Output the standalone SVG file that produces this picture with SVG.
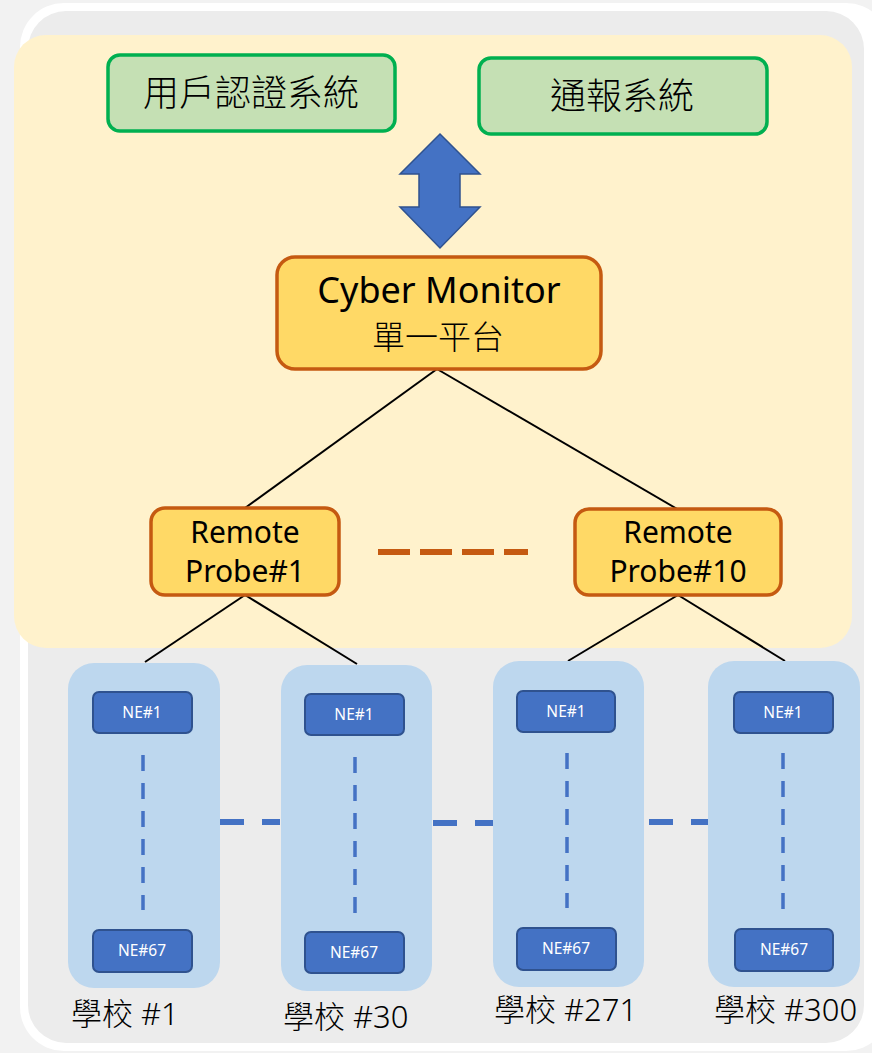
<svg xmlns="http://www.w3.org/2000/svg" width="872" height="1053" viewBox="0 0 872 1053">
<style>
text{font-family:"Noto Sans","Noto Sans CJK TC",sans-serif;fill:#000}
.cjk{font-family:"Noto Sans CJK TC","Noto Sans",sans-serif;font-weight:300}
.sys{fill:#c5e0b4;stroke:#00b050;stroke-width:3.5}
.core{fill:#ffd966;stroke:#c55a11;stroke-width:3.5}
.school{fill:#bdd7ee}
.ne{fill:#4472c4;stroke:#2f528f;stroke-width:2}
.net{fill:#fff;font-size:15.5px;text-anchor:middle}
.link{stroke:#000;stroke-width:2;fill:none}
.vdash{stroke:#4472c4;stroke-width:3.5;stroke-dasharray:16 12;fill:none}
.hdash{stroke:#4472c4;stroke-width:6;stroke-dasharray:24 18;fill:none}
.lbl{font-size:31px;font-weight:300}
.rp{font-size:30px;text-anchor:middle}
</style>
<rect x="0" y="0" width="872" height="1053" fill="#f2f2f2"/>
<rect x="20" y="3" width="870" height="1048" rx="44" fill="#ffffff"/>
<rect x="28" y="11" width="836" height="1032" rx="38" fill="#ececec"/>
<rect x="14" y="35" width="838" height="613" rx="32" fill="#fff2cc"/>

<g id="connectors">
<line class="link" x1="437" y1="369" x2="245" y2="508"/>
<line class="link" x1="437" y1="369" x2="679" y2="510"/>
<line class="link" x1="245" y1="595" x2="145" y2="662"/>
<line class="link" x1="245" y1="595" x2="357" y2="664"/>
<line class="link" x1="678" y1="595" x2="568" y2="661"/>
<line class="link" x1="678" y1="595" x2="785" y2="661"/>
<line x1="378" y1="552" x2="528" y2="552" stroke="#c55a11" stroke-width="6" stroke-dasharray="32 10"/>
<line class="hdash" x1="220" y1="822" x2="280" y2="822"/>
<line class="hdash" x1="433" y1="823" x2="493" y2="823"/>
<line class="hdash" x1="649" y1="822" x2="708" y2="822"/>
<path d="M440 134 L480 174 L460 174 L460 207 L480 207 L440 248 L400 207 L419 207 L419 174 L400 174 Z" fill="#4472c4" stroke="#2f528f" stroke-width="1.5"/>
</g>

<g id="auth">
<rect class="sys" x="108" y="55" width="287" height="76" rx="12"/>
<text class="cjk" x="251" y="106" font-size="36" text-anchor="middle">用戶認證系統</text>
</g>
<g id="notify">
<rect class="sys" x="479" y="58" width="288" height="76" rx="12"/>
<text class="cjk" x="622" y="109" font-size="36" text-anchor="middle">通報系統</text>
</g>
<g id="cyber-monitor">
<rect class="core" x="277" y="257" width="324" height="112" rx="18"/>
<text x="439" y="303" font-size="36" text-anchor="middle">Cyber Monitor</text>
<text class="cjk" x="438" y="349" font-size="33" text-anchor="middle">單一平台</text>
</g>
<g id="probe1">
<rect class="core" x="151" y="508" width="188" height="87" rx="14"/>
<text class="rp" x="245" y="543">Remote</text>
<text class="rp" x="245" y="582">Probe#1</text>
</g>
<g id="probe10">
<rect class="core" x="575" y="509" width="206" height="86" rx="14"/>
<text class="rp" x="678" y="543">Remote</text>
<text class="rp" x="678" y="582">Probe#10</text>
</g>

<g id="school1">
<rect class="school" x="68" y="663" width="152" height="325" rx="26"/>
<line class="vdash" x1="143" y1="755" x2="143" y2="910"/>
<rect class="ne" x="93" y="692" width="99" height="41" rx="6"/>
<text class="net" x="142" y="718">NE#1</text>
<rect class="ne" x="93" y="930" width="99" height="42" rx="6"/>
<text class="net" x="142" y="956">NE#67</text>
<text class="lbl" x="71" y="1025">學校 #1</text>
</g>
<g id="school30">
<rect class="school" x="281" y="665" width="151" height="326" rx="26"/>
<line class="vdash" x1="355" y1="757" x2="355" y2="913"/>
<rect class="ne" x="305" y="694" width="99" height="41" rx="6"/>
<text class="net" x="354" y="720">NE#1</text>
<rect class="ne" x="305" y="932" width="99" height="41" rx="6"/>
<text class="net" x="354" y="958">NE#67</text>
<text class="lbl" x="283" y="1028">學校 #30</text>
</g>
<g id="school271">
<rect class="school" x="493" y="661" width="151" height="326" rx="26"/>
<line class="vdash" x1="567" y1="753" x2="567" y2="908"/>
<rect class="ne" x="517" y="691" width="98" height="41" rx="6"/>
<text class="net" x="566" y="717">NE#1</text>
<rect class="ne" x="517" y="928" width="99" height="42" rx="6"/>
<text class="net" x="566" y="954">NE#67</text>
<text class="lbl" x="494" y="1021">學校 #271</text>
</g>
<g id="school300">
<rect class="school" x="708" y="661" width="152" height="326" rx="26"/>
<line class="vdash" x1="783" y1="753" x2="783" y2="910"/>
<rect class="ne" x="734" y="692" width="99" height="41" rx="6"/>
<text class="net" x="783" y="718">NE#1</text>
<rect class="ne" x="735" y="929" width="98" height="42" rx="6"/>
<text class="net" x="784" y="955">NE#67</text>
<text class="lbl" x="714" y="1021">學校 #300</text>
</g>
</svg>
